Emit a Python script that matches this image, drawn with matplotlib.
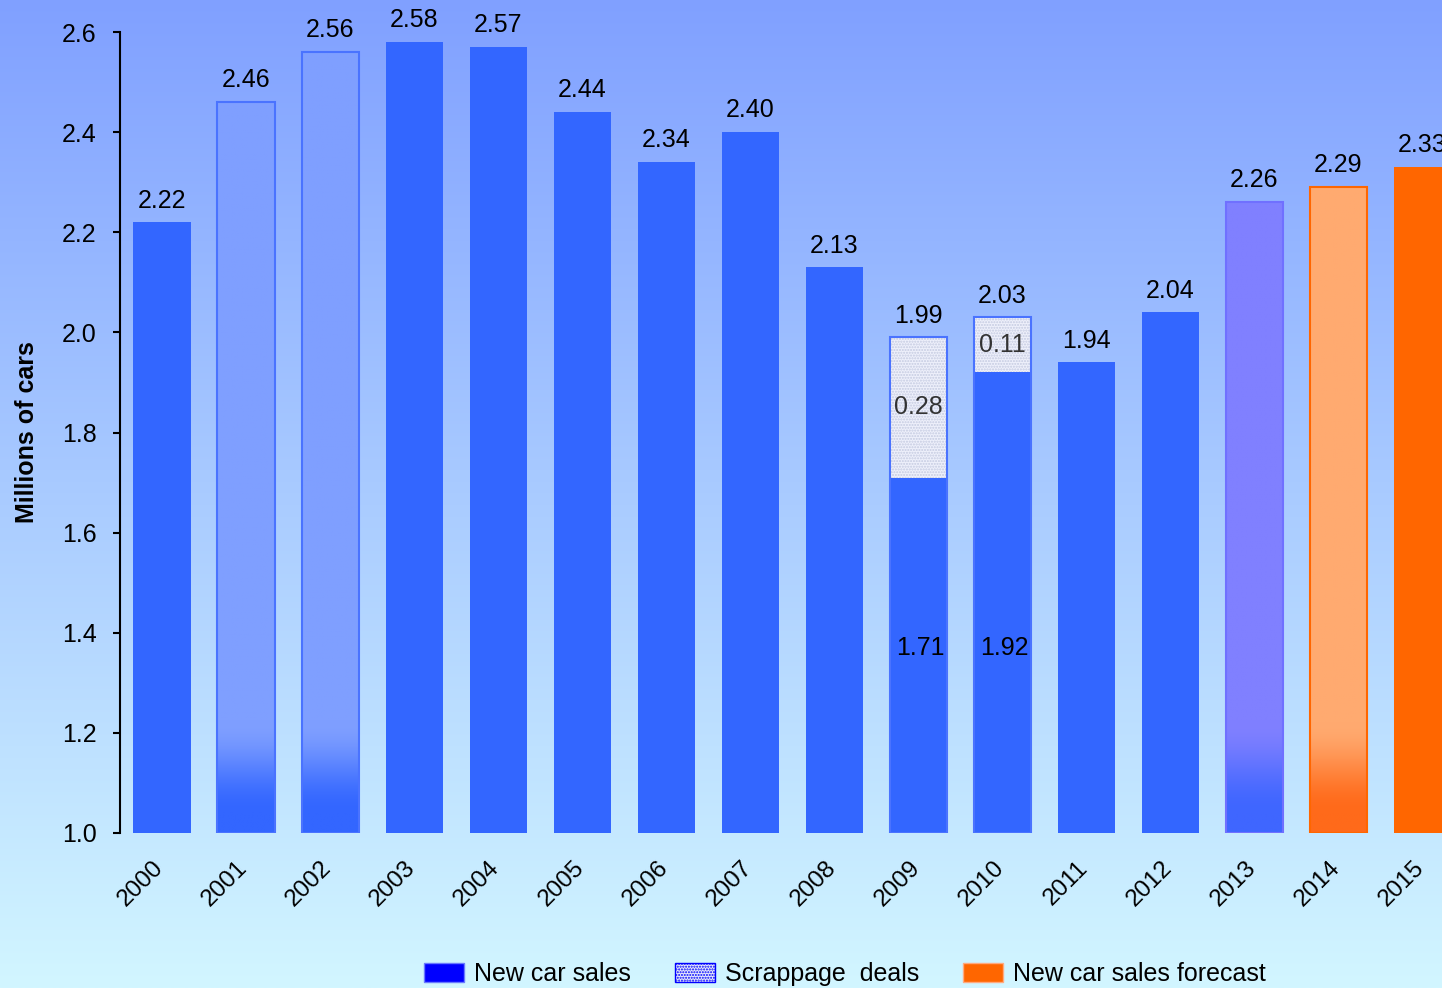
import numpy as np
import matplotlib
matplotlib.use("Agg")
import matplotlib.pyplot as plt
import matplotlib.transforms as mtrans
from matplotlib.patches import Patch
from matplotlib.colors import to_rgb

plt.rcParams['font.family'] = ['Liberation Sans', 'DejaVu Sans']

# ---- data ----
years = [str(y) for y in range(2000, 2016)]
totals = [2.22, 2.46, 2.56, 2.58, 2.57, 2.44, 2.34, 2.40,
          2.13, 1.99, 2.03, 1.94, 2.04, 2.26, 2.29, 2.33]
# split of the scrappage-scheme years
split_years = ['2009', '2010']
split_new = [1.71, 1.92]
split_scrap = [0.28, 0.11]

BASE = 1.0
BLUE = '#3366ff'
ORANGE = '#ff6600'

# bars drawn with a fade toward the base: (top colour, bottom colour, edge colour)
faded = {
    '2001': ('#7f9fff', BLUE, '#4a73ff'),
    '2002': ('#7f9fff', BLUE, '#4a73ff'),
    '2013': ('#8080ff', '#3f66ff', '#7070ff'),
    '2014': ('#ffaa70', '#ff6a1a', ORANGE),
}
solid_orange = ['2015']

W, H, DPI = 1442, 988, 100
fig = plt.figure(figsize=(W / DPI, H / DPI), dpi=DPI)

# background gradient
bg = fig.add_axes([0, 0, 1, 1], zorder=-10)
top_c = np.array(to_rgb('#80a0ff'))
bot_c = np.array(to_rgb('#d2f6ff'))
t = np.linspace(0, 1, 512)[:, None]
grad = top_c * (1 - t) + bot_c * t
bg.imshow(grad[:, None, :].repeat(2, axis=1), aspect='auto', extent=[0, 1, 0, 1])
bg.set_axis_off()

left_px, right_px = 120, 1464.5
top_px, bot_px = 32, 833
ax = fig.add_axes([left_px / W, 1 - bot_px / H,
                   (right_px - left_px) / W, (bot_px - top_px) / H])
ax.patch.set_alpha(0)

x = np.arange(len(years))
bw = 0.68
FS = 18

def fade_image(top, bottom, ytop, n=300):
    vals = np.linspace(ytop, BASE, n)[:, None]
    s = np.clip((vals - 1.04) / (1.22 - 1.04), 0, 1)
    s = s * s * (3 - 2 * s)
    c1 = np.array(to_rgb(top)); c0 = np.array(to_rgb(bottom))
    img = c0 * (1 - s) + c1 * s
    return img[:, None, :].repeat(2, axis=1)

for i, (yr, v) in enumerate(zip(years, totals)):
    if yr in split_years:
        k = split_years.index(yr)
        lo = split_new[k]
        sc = split_scrap[k]
        ax.bar(i, lo - BASE, width=bw, bottom=BASE, color=BLUE,
               edgecolor='none', zorder=2)
        ax.bar(i, v - lo, width=bw, bottom=lo, color='#eef0fb',
               hatch='......', edgecolor='#c4cae0', linewidth=0, zorder=2)
        ax.bar(i, v - BASE, width=bw, bottom=BASE, color='none',
               edgecolor='#4a73ff', linewidth=1.5, zorder=3)
        ax.text(i + 0.03, 1.37, f"{lo:.2f}", ha='center', va='center',
                fontsize=FS, color='black', zorder=4)
        ax.text(i, lo + (v - lo) / 2, f"{sc:.2f}", ha='center', va='center',
                fontsize=FS, color='#333333', zorder=4)
    elif yr in faded:
        ctop, cbot, cedge = faded[yr]
        ax.imshow(fade_image(ctop, cbot, v), aspect='auto',
                  extent=[i - bw / 2, i + bw / 2, BASE, v], zorder=2,
                  interpolation='bilinear')
        ax.bar(i, v - BASE, width=bw, bottom=BASE, color='none',
               edgecolor=cedge, linewidth=1.5, zorder=3)
    elif yr in solid_orange:
        ax.bar(i, v - BASE, width=bw, bottom=BASE, color=ORANGE,
               edgecolor='none', zorder=2, clip_on=False)
    else:
        ax.bar(i, v - BASE, width=bw, bottom=BASE, color=BLUE,
               edgecolor='none', zorder=2)
    ax.annotate(f"{v:.2f}", (i, v), xytext=(0, 7), textcoords='offset points',
                ha='center', va='bottom', fontsize=FS, color='black',
                annotation_clip=False, zorder=5)

ax.set_xlim(-0.5, len(years) - 0.5)
ax.set_ylim(BASE, 2.6)

# axes styling
for s in ['top', 'right', 'bottom']:
    ax.spines[s].set_visible(False)
ax.spines['left'].set_linewidth(1.5)
yt = np.arange(1.0, 2.61, 0.2)
ax.set_yticks(yt)
ax.set_yticklabels([f"{v:.1f}" for v in yt])
ax.tick_params(axis='y', length=5, width=1.5, labelsize=FS, pad=12)
ax.set_xticks(x)
ax.set_xticklabels(years, rotation=45, ha='right', fontsize=FS - 0.5)
ax.tick_params(axis='x', length=0, pad=17)
shift = mtrans.ScaledTranslation(6 / DPI, 0, fig.dpi_scale_trans)
for lbl in ax.get_xticklabels():
    lbl.set_transform(lbl.get_transform() + shift)
ax.set_ylabel('Millions of cars', fontsize=FS, fontweight='bold', labelpad=16)

handles = [
    Patch(facecolor='#0000ff', edgecolor='#6a7aff', label='New car sales'),
    Patch(facecolor='#e8eafa', edgecolor='#0000ff', hatch='......', label='Scrappage  deals'),
    Patch(facecolor=ORANGE, edgecolor='#ffaa80', label='New car sales forecast'),
]
fig.legend(handles=handles, loc='center', bbox_to_anchor=(0.586, 0.014),
           ncol=3, frameon=False, fontsize=FS, handlelength=1.6,
           handleheight=0.8, handletextpad=0.4, columnspacing=1.75)

fig.savefig('out.png', dpi=DPI)
